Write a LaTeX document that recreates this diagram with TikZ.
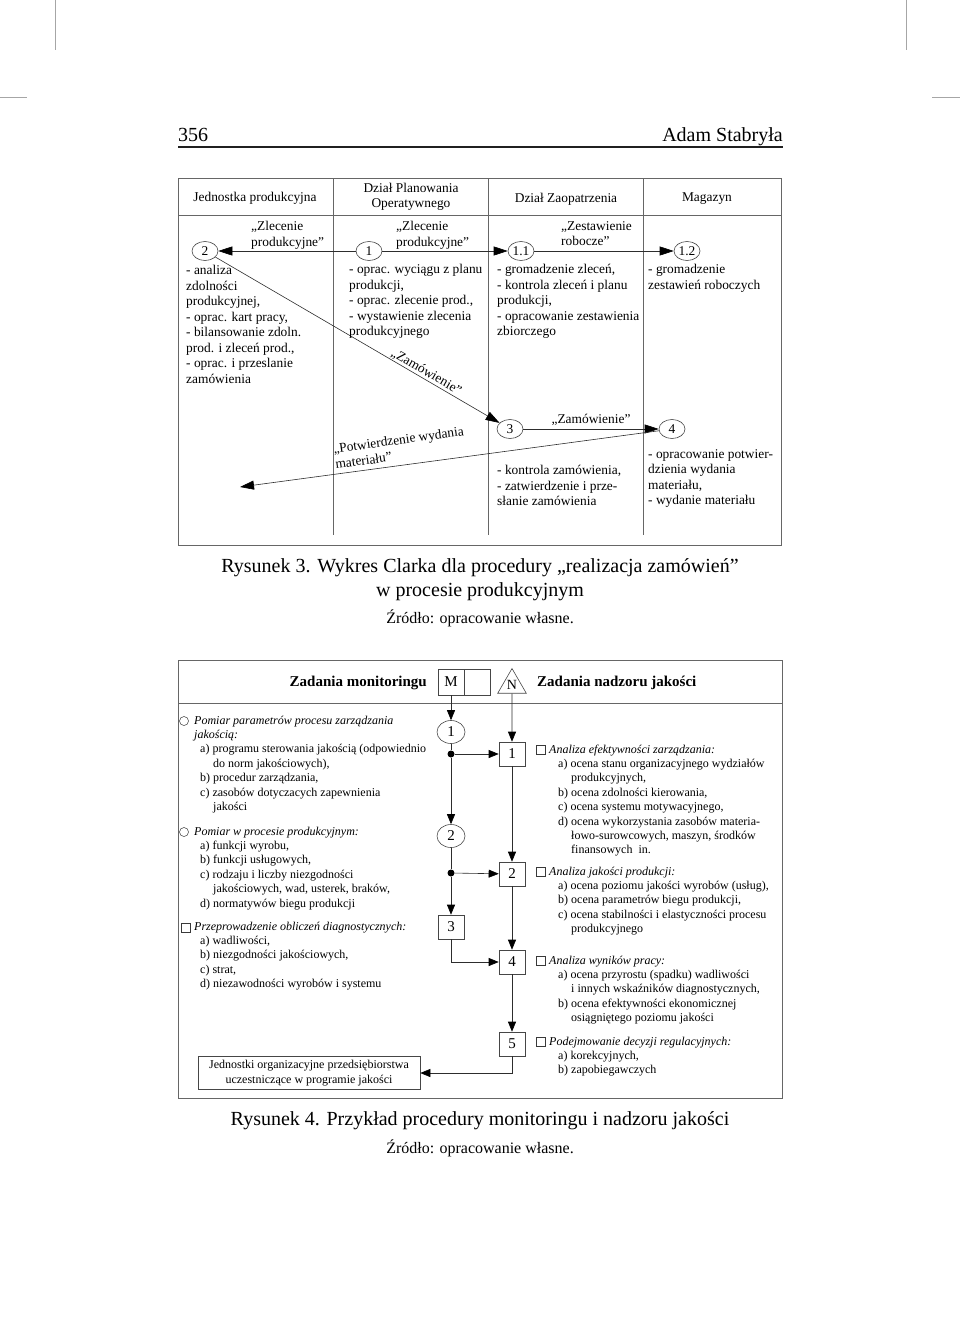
\documentclass[tikz,border=0pt]{standalone}
\usepackage{fontspec}
\setmainfont{Liberation Serif}
\usepackage{tikz}
\usetikzlibrary{arrows.meta,shapes.geometric,positioning}
\newcommand{\chartfont}{\fontsize{13.4}{15.5}\selectfont}
\newcommand{\taskfont}{\fontsize{12}{14.4}\selectfont}
\newcommand{\capfont}{\fontsize{20}{24}\selectfont}
\newcommand{\srcfont}{\fontsize{16}{19}\selectfont}
\newcommand{\boldhead}{\fontsize{15}{18}\selectfont\bfseries}
\tikzset{
  cropmark/.style={draw=gray!70,line width=0.6pt},
  chartframe/.style={draw=gray!80!black,line width=0.9pt},
  lanerule/.style={draw=gray!80!black,line width=0.7pt},
  station/.style={ellipse,draw=gray!55!black,line width=0.6pt,
    minimum width=26pt,minimum height=19pt,inner sep=0pt,font=\chartfont},
  docflow/.style={draw=gray!35!black,line width=0.6pt,
    -{Triangle[length=14pt,width=9pt,color=black]}},
  lanehead/.style={font=\chartfont,align=center,inner sep=0pt},
  lanetext/.style={font=\chartfont,align=left,inner sep=0pt,anchor=north west},
  doclabel/.style={font=\chartfont,align=left,inner sep=0pt},
  taskframe/.style={draw=gray!80!black,line width=0.9pt},
  taskstep/.style={draw=gray!55!black,line width=0.6pt,minimum width=26pt,
    minimum height=24pt,inner sep=0pt,font=\fontsize{15}{18}\selectfont},
  measure/.style={ellipse,draw=gray!55!black,line width=0.6pt,minimum width=28pt,
    minimum height=23pt,inner sep=0pt,font=\fontsize{15}{18}\selectfont},
  junction/.style={circle,fill=black,inner sep=0pt,minimum size=7pt},
  taskflow/.style={draw=gray!35!black,line width=0.6pt,
    -{Triangle[length=10pt,width=8pt,color=black]}},
  taskline/.style={draw=gray!35!black,line width=0.6pt},
  tasktext/.style={font=\taskfont,align=left,inner sep=0pt,anchor=north west},
  hollowmark/.style={circle,draw=gray!45!black,line width=0.5pt,minimum size=9pt,inner sep=0pt},
  squaremark/.style={rectangle,draw=gray!45!black,line width=0.5pt,minimum size=9pt,inner sep=0pt}
}

\begin{document}
\begin{tikzpicture}[x=1pt,y=-1pt]
  \useasboundingbox (0,0) rectangle (960,1322);
  \draw[cropmark] (55,0) -- (55,50) (0,97) -- (27,97)
    (906,0) -- (906,50) (932,97) -- (960,97);
  % running head
  \node[anchor=base west,inner sep=0pt,font=\capfont] (pageno) at (178,141) {356};
  \node[anchor=base east,inner sep=0pt,font=\capfont] (author) at (783,141) {Adam Stabryła};
  \draw[line width=1.3pt,gray!25!black] (178,147) -- (783,147);

  % Rysunek 3: Clark chart
  \draw[chartframe] (178,178) rectangle (781,545);
  \draw[chartframe] (178,215) -- (781,215);
  \foreach \x in {333,488,643}
    \draw[lanerule] (\x,178) -- (\x,535);
  \node[lanehead,anchor=base] (laneA) at (255,201.5) {Jednostka produkcyjna};
  \node[lanehead] (laneB) at (411,197) {Dział Planowania\\Operatywnego};
  \node[lanehead,anchor=base] (laneC) at (566,202) {Dział Zaopatrzenia};
  \node[lanehead,anchor=base] (laneD) at (707,201.5) {Magazyn};

  \node[station] (s2) at (205,251) {2};
  \node[station] (s1) at (369,251) {1};
  \node[station] (s11) at (521,251) {1.1};
  \node[station] (s12) at (687,251) {1.2};
  \node[station] (s3) at (510,429) {3};
  \node[station] (s4) at (672,429) {4};
  \coordinate (potwend) at (240,487);

  \draw[docflow] (s1) -- (s2);
  \draw[docflow] (s1) -- (s11);
  \draw[docflow] (s11) -- (s12);
  \draw[docflow] (s2) -- (s3)
    node[doclabel,pos=0.73,sloped,above=1pt] (zamA) {„Zamówienie”};
  \draw[docflow] (s3) -- (s4)
    node[doclabel,midway,above=3pt] (zamB) {„Zamówienie”};
  \draw[docflow] (s4) -- (potwend);

  \node[doclabel,anchor=north west] (zlecA) at (251,221) {„Zlecenie\\produkcyjne”};
  \node[doclabel,anchor=north west] (zlecB) at (396,221) {„Zlecenie\\produkcyjne”};
  \node[doclabel,anchor=north west] (zestC) at (561,221) {„Zestawienie\\robocze”};
  \node[doclabel,anchor=south west,rotate=7.75] (potw) at (336,469)
    {„Potwierdzenie wydania\\materiału”};

  \node[lanetext] (taskA) at (186,265) {- analiza\\zdolności\\produkcyjnej,\\- oprac. kart pracy,\\
    - bilansowanie zdoln.\\prod. i zleceń prod.,\\- oprac. i przeslanie\\zamówienia};
  \node[lanetext] (taskB) at (349,264) {- oprac. wyciągu z planu\\produkcji,\\- oprac. zlecenie prod.,\\
    - wystawienie zlecenia\\produkcyjnego};
  \node[lanetext] (taskC) at (497,264) {- gromadzenie zleceń,\\- kontrola zleceń i planu\\produkcji,\\
    - opracowanie zestawienia\\zbiorczego};
  \node[lanetext] (taskD) at (648,264) {- gromadzenie\\zestawień roboczych};
  \node[lanetext] (taskE) at (497,465) {- kontrola zamówienia,\\- zatwierdzenie i prze-\\słanie zamówienia};
  \node[lanetext] (taskF) at (648,449) {- opracowanie potwier-\\dzienia wydania\\materiału,\\- wydanie materiału};

  \node[align=center,inner sep=0pt,font=\capfont] (cap3) at (480,580)
    {Rysunek 3. Wykres Clarka dla procedury „realizacja zamówień”\\w procesie produkcyjnym};
  \node[inner sep=0pt,font=\srcfont] (src3) at (480,618) {Źródło: opracowanie własne.};

  % Rysunek 4: monitoring and supervision
  \draw[taskframe] (178,660) rectangle (782,1098);
  \draw[taskframe] (178,703) -- (782,703);
  \node[inner sep=0pt,anchor=east,font=\boldhead] (monhead) at (427,683) {Zadania monitoringu};
  \node[inner sep=0pt,anchor=west,font=\boldhead] (nadhead) at (537,683) {Zadania nadzoru jakości};
  \node[taskstep,minimum height=26pt] (mbox) at (451,682) {M};
  \node[taskstep,minimum height=26pt,right=0pt of mbox] (mspare) {};
  \node[regular polygon,regular polygon sides=3,draw=gray!55!black,line width=0.6pt,
    minimum size=33pt,inner sep=0pt,font=\fontsize{14}{16}\selectfont] (ntri) at (512,685) {N};

  \node[measure] (mc1) at (451,732) {1};
  \node[junction] (d1) at (451,754) {};
  \node[measure] (mc2) at (451,836) {2};
  \node[junction] (d2) at (451,873) {};
  \node[taskstep] (mb3) at (451,927) {3};
  \node[taskstep] (nb1) at (512,754) {1};
  \node[taskstep] (nb2) at (512,874) {2};
  \node[taskstep] (nb4) at (512,962) {4};
  \node[taskstep] (nb5) at (512,1044) {5};
  \node[draw=gray!55!black,line width=0.6pt,align=center,inner sep=0pt,minimum width=222pt,
    minimum height=33pt,font=\taskfont] (units) at (309,1073)
    {Jednostki organizacyjne przedsiębiorstwa\\uczestniczące w programie jakości};

  \draw[taskflow] (mbox) -- (mc1);
  \draw[taskline] (mc1) -- (d1);
  \draw[taskflow] (d1) -- (mc2);
  \draw[taskflow] (d1) -- (nb1);
  \draw[taskline] (mc2) -- (d2);
  \draw[taskflow] (d2) -- (mb3);
  \draw[taskflow] (d2) -- (nb2);
  \draw[taskflow] (mb3) |- (nb4);
  \draw[taskflow] (ntri.south) -- (nb1);
  \draw[taskflow] (nb1) -- (nb2);
  \draw[taskflow] (nb2) -- (nb4);
  \draw[taskflow] (nb4) -- (nb5);
  \draw[taskflow] (nb5) |- (units);

  \node[hollowmark] (markA) at (184,721) {};
  \node[hollowmark] (markB) at (184,832) {};
  \node[squaremark] (markC) at (186,928) {};
  \node[tasktext] (monA) at (194,715.5) {\textit{Pomiar parametrów procesu zarządzania}\\
    \textit{jakością:}\\
    \hspace*{6pt}a) programu sterowania jakością (odpowiednio\\
    \hspace*{19pt}do norm jakościowych),\\
    \hspace*{6pt}b) procedur zarządzania,\\
    \hspace*{6pt}c) zasobów dotyczacych zapewnienia\\
    \hspace*{19pt}jakości};
  \node[tasktext] (monB) at (194,826.5) {\textit{Pomiar w procesie produkcyjnym:}\\
    \hspace*{6pt}a) funkcji wyrobu,\\
    \hspace*{6pt}b) funkcji usługowych,\\
    \hspace*{6pt}c) rodzaju i liczby niezgodności\\
    \hspace*{19pt}jakościowych, wad, usterek, braków,\\
    \hspace*{6pt}d) normatywów biegu produkcji};
  \node[tasktext] (monC) at (194,921.5) {\textit{Przeprowadzenie obliczeń diagnostycznych:}\\
    \hspace*{6pt}a) wadliwości,\\
    \hspace*{6pt}b) niezgodności jakościowych,\\
    \hspace*{6pt}c) strat,\\
    \hspace*{6pt}d) niezawodności wyrobów i systemu};

  \node[squaremark] (markD) at (541,750) {};
  \node[squaremark] (markE) at (541,872) {};
  \node[squaremark] (markF) at (541,961) {};
  \node[squaremark] (markG) at (541,1042) {};
  \node[tasktext] (nadA) at (549,744.5) {\textit{Analiza efektywności zarządzania:}\\
    \hspace*{9pt}a) ocena stanu organizacyjnego wydziałów\\
    \hspace*{22pt}produkcyjnych,\\
    \hspace*{9pt}b) ocena zdolności kierowania,\\
    \hspace*{9pt}c) ocena systemu motywacyjnego,\\
    \hspace*{9pt}d) ocena wykorzystania zasobów materia-\\
    \hspace*{22pt}łowo-surowcowych, maszyn, środków\\
    \hspace*{22pt}finansowych~ in.};
  \node[tasktext] (nadB) at (549,866.5) {\textit{Analiza jakości produkcji:}\\
    \hspace*{9pt}a) ocena poziomu jakości wyrobów (usług),\\
    \hspace*{9pt}b) ocena parametrów biegu produkcji,\\
    \hspace*{9pt}c) ocena stabilności i elastyczności procesu\\
    \hspace*{22pt}produkcyjnego};
  \node[tasktext] (nadC) at (549,955.5) {\textit{Analiza wyników pracy:}\\
    \hspace*{9pt}a) ocena przyrostu (spadku) wadliwości\\
    \hspace*{22pt}i innych wskaźników diagnostycznych,\\
    \hspace*{9pt}b) ocena efektywności ekonomicznej\\
    \hspace*{22pt}osiągniętego poziomu jakości};
  \node[tasktext] (nadD) at (549,1036.5) {\textit{Podejmowanie decyzji regulacyjnych:}\\
    \hspace*{9pt}a) korekcyjnych,\\
    \hspace*{9pt}b) zapobiegawczych};

  \node[align=center,inner sep=0pt,font=\capfont] (cap4) at (480,1121)
    {Rysunek 4. Przykład procedury monitoringu i nadzoru jakości};
  \node[inner sep=0pt,font=\srcfont] (src4) at (480,1148) {Źródło: opracowanie własne.};
\end{tikzpicture}
\end{document}
